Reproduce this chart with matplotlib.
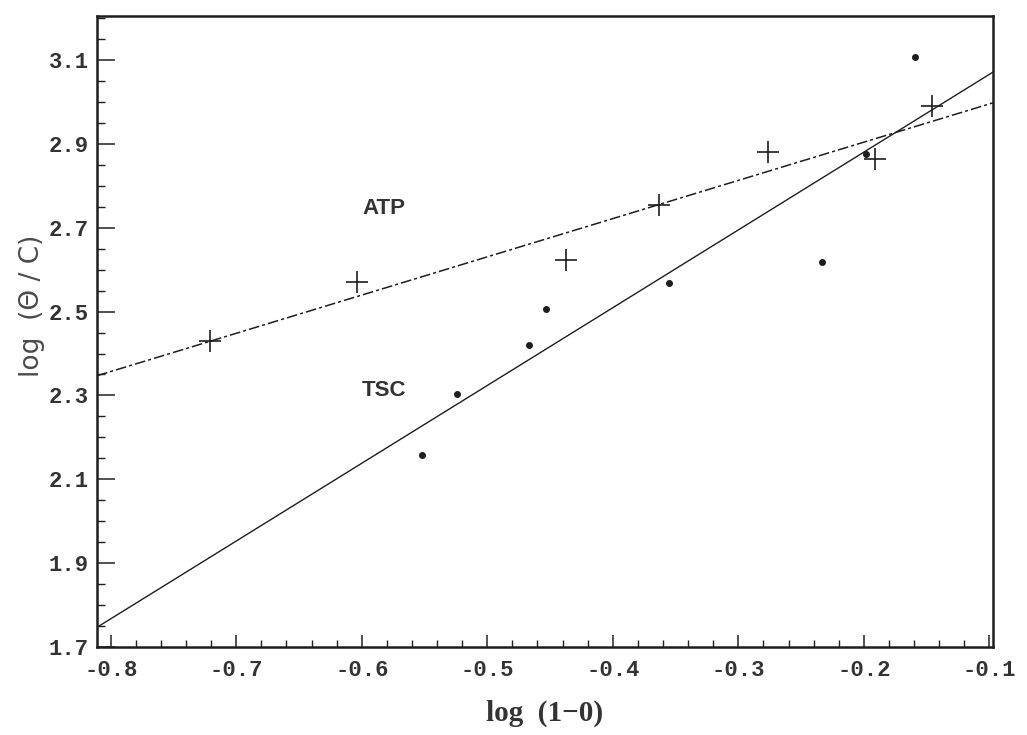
import numpy as np
import matplotlib.pyplot as plt
from matplotlib.ticker import MultipleLocator

# ATP points (plus markers)
atp_x = [-0.721, -0.604, -0.437, -0.363, -0.276, -0.191, -0.146]
atp_y = [2.429, 2.570, 2.623, 2.754, 2.880, 2.863, 2.990]

# TSC points (dots)
tsc_x = [-0.552, -0.524, -0.467, -0.453, -0.355, -0.233, -0.198, -0.159]
tsc_y = [2.158, 2.303, 2.420, 2.506, 2.568, 2.618, 2.875, 3.107]

x_ticks = [-0.8, -0.7, -0.6, -0.5, -0.4, -0.3, -0.2, -0.1]
y_ticks = [1.7, 1.9, 2.1, 2.3, 2.5, 2.7, 2.9, 3.1]

ink = '#1e1e1e'
mono = ['Liberation Mono', 'DejaVu Sans Mono']

fig = plt.figure(figsize=(10.27, 7.35), dpi=100)
ax = fig.add_axes([0.0944, 0.1197, 0.8726, 0.8585])

xlo, xhi = -0.811, -0.097
ax.set_xlim(xlo, xhi)
ax.set_ylim(1.7, 3.205)

# least-squares lines through each set, drawn across the whole frame
xx = np.array([xlo, xhi])
a1, b1 = np.polyfit(atp_x, atp_y, 1)
a2, b2 = np.polyfit(tsc_x, tsc_y, 1)
ax.plot(xx, a1 * xx + b1, color=ink, lw=1.1, ls=(0, (7, 2, 2, 2)))
ax.plot(xx, a2 * xx + b2, color=ink, lw=1.0, ls='-')

ax.plot(atp_x, atp_y, ls='none', marker='+', ms=16, mew=1.2, color=ink)
ax.plot(tsc_x, tsc_y, ls='none', marker='o', ms=4, color=ink)

ax.text(-0.582, 2.747, 'ATP', fontsize=16, fontweight='bold', color='#333333',
        ha='center', va='center', family='Liberation Sans')
ax.text(-0.582, 2.313, 'TSC', fontsize=16, fontweight='bold', color='#333333',
        ha='center', va='center', family='Liberation Sans')

ax.set_xticks(x_ticks)
ax.set_xticklabels(['%.1f' % v for v in x_ticks])
ax.set_yticks(y_ticks)
ax.set_yticklabels(['%.1f' % v for v in y_ticks])
ax.xaxis.set_minor_locator(MultipleLocator(0.02))
ax.yaxis.set_minor_locator(MultipleLocator(0.05))

ax.tick_params(axis='x', which='major', direction='in', length=9, width=1.2,
               colors='#333333', labelsize=16, pad=9)
ax.tick_params(axis='x', which='minor', direction='in', length=5, width=1.0, colors=ink)
ax.tick_params(axis='y', which='major', direction='in', length=13, width=1.2,
               colors='#333333', labelsize=16, pad=6)
ax.tick_params(axis='y', which='minor', direction='in', length=6, width=1.0, colors=ink)
for lab in ax.get_xticklabels() + ax.get_yticklabels():
    lab.set_family(mono)
    lab.set_fontweight('bold')

for s in ax.spines.values():
    s.set_color(ink)
    s.set_linewidth(1.8)

ax.set_xlabel('log  (1\u22120)', fontsize=21, fontweight='bold',
              family=['Liberation Serif'], color='#333333', labelpad=14)
ax.set_ylabel('log  (\u0398 / C)', fontsize=19, family=['DejaVu Sans'],
              color='#4a4a4a')
ax.yaxis.set_label_coords(-0.058, 0.54)

fig.savefig('out.png', dpi=100)
